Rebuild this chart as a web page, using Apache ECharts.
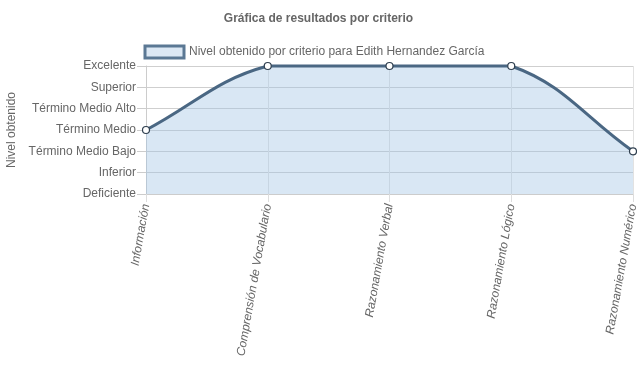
<!DOCTYPE html>
<html><head><meta charset="utf-8">
<script src="https://cdn.jsdelivr.net/npm/echarts@6/dist/echarts.min.js"></script>
<style>html,body{margin:0;padding:0;background:#fff}#c{width:637px;height:389px}</style>
</head><body><div id="c"></div>
<script>
const categories = ['Información', 'Comprensión de Vocabulario', 'Razonamiento Verbal', 'Razonamiento Lógico', 'Razonamiento Numérico'];
const levels = ['Deficiente', 'Inferior', 'Término Medio Bajo', 'Término Medio', 'Término Medio Alto', 'Superior', 'Excelente'];
const values = [3, 6, 6, 6, 2];
const seriesName = 'Nivel obtenido por criterio para Edith Hernandez García';
const titleText = 'Gráfica de resultados por criterio';
const yName = 'Nivel obtenido';

const FONT = '"Liberation Sans", Arial, Helvetica, sans-serif';
const TENSION = 0.4;
const LINE_COLOR = '#4a6783';
const FILL_COLOR = 'rgba(160,195,228,0.4)';

// Chart.js-style spline (tension, capped to chart area)
function renderCurve(params, api) {
  if (params.dataIndex !== 0) return null;
  const cs = params.coordSys;
  const pts = values.map((v, i) => api.coord([i, v]));
  const n = pts.length;
  const cps = [];
  const cap = (p) => [Math.min(Math.max(p[0], cs.x), cs.x + cs.width), Math.min(Math.max(p[1], cs.y), cs.y + cs.height)];
  for (let i = 0; i < n; i++) {
    const cur = pts[i], prev = pts[i - 1] || cur, next = pts[i + 1] || cur;
    const d01 = Math.hypot(cur[0] - prev[0], cur[1] - prev[1]);
    const d12 = Math.hypot(next[0] - cur[0], next[1] - cur[1]);
    let s01 = d01 / (d01 + d12), s12 = d12 / (d01 + d12);
    if (isNaN(s01)) s01 = 0; if (isNaN(s12)) s12 = 0;
    const fa = TENSION * s01, fb = TENSION * s12;
    cps.push({
      prev: cap([cur[0] - fa * (next[0] - prev[0]), cur[1] - fa * (next[1] - prev[1])]),
      next: cap([cur[0] + fb * (next[0] - prev[0]), cur[1] + fb * (next[1] - prev[1])])
    });
  }
  let d = 'M' + pts[0][0] + ' ' + pts[0][1];
  for (let i = 1; i < n; i++) {
    const a = cps[i - 1].next, b = cps[i].prev, p = pts[i];
    d += ' C' + a[0] + ' ' + a[1] + ' ' + b[0] + ' ' + b[1] + ' ' + p[0] + ' ' + p[1];
  }
  const base = api.coord([0, 0])[1];
  const area = d + ' L' + pts[n - 1][0] + ' ' + base + ' L' + pts[0][0] + ' ' + base + ' Z';
  return {
    type: 'group',
    children: [
      {type: 'path', shape: {pathData: area}, style: {fill: FILL_COLOR, stroke: null}},
      {type: 'path', shape: {pathData: d}, style: {fill: null, stroke: LINE_COLOR, lineWidth: 3, lineJoin: 'round'}}
    ]
  };
}

const chart = echarts.init(document.getElementById('c'), null, {renderer: 'canvas'});
chart.setOption({
  animation: false,
  textStyle: {fontFamily: FONT},
  title: {
    text: titleText, left: 'center', top: 8,
    textStyle: {fontSize: 12, fontWeight: 'bold', color: '#666', fontFamily: FONT}
  },
  legend: {
    top: 39.5, left: 138.5,
    itemWidth: 39, itemHeight: 12, itemGap: 10,
    textStyle: {fontSize: 12, color: '#666', fontFamily: FONT},
    data: [{name: seriesName, icon: 'rect',
      itemStyle: {color: '#dce8f4', borderColor: '#5b7894', borderWidth: 3}}]
  },
  grid: {left: 146, right: 4, top: 66, bottom: 195, containLabel: false, outerBoundsMode: 'none'},
  xAxis: {
    type: 'category', data: categories, boundaryGap: false,
    axisLine: {show: true, lineStyle: {color: '#ccc'}},
    axisTick: {show: true, length: 8, lineStyle: {color: '#ddd'}},
    splitLine: {show: true, lineStyle: {color: '#e2e2e2'}},
    axisLabel: {rotate: 80, fontSize: 12, fontStyle: 'italic', color: '#666', margin: 10, interval: 0, fontFamily: FONT}
  },
  yAxis: {
    type: 'value', min: 0, max: 6, interval: 1,
    name: yName, nameLocation: 'middle', nameRotate: 90, nameGap: 126,
    nameTextStyle: {fontSize: 12, color: '#666', fontFamily: FONT},
    axisLine: {show: true, lineStyle: {color: '#ccc'}},
    axisTick: {show: true, length: 9, lineStyle: {color: '#ccc'}},
    splitLine: {show: true, lineStyle: {color: '#cfcfcf'}},
    axisLabel: {fontSize: 12, color: '#666', margin: 10, fontFamily: FONT,
      formatter: v => levels[v] || ''}
  },
  series: [{
    name: seriesName, type: 'custom', renderItem: renderCurve,
    data: values.map((v, i) => [i, v]), z: 2, silent: true
  }, {
    name: seriesName, type: 'line', data: values, z: 3,
    symbol: 'circle', symbolSize: 7,
    itemStyle: {color: '#fff', borderColor: '#2f3f4f', borderWidth: 1.2},
    lineStyle: {width: 0, opacity: 0}
  }]
});
</script></body></html>
